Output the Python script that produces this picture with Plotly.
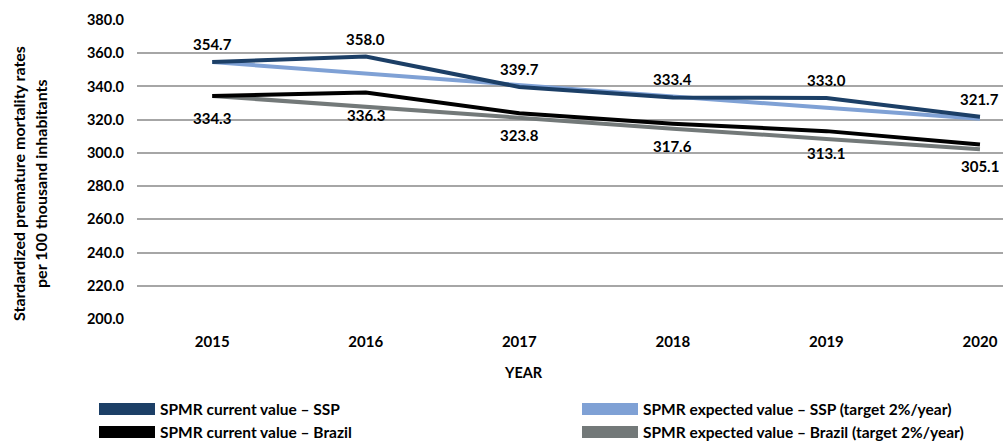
import plotly.graph_objects as go

years = [2015, 2016, 2017, 2018, 2019, 2020]
ssp_current = [354.7, 358.0, 339.7, 333.4, 333.0, 321.7]
ssp_expected = [354.7, 347.6, 340.7, 333.9, 327.2, 320.6]
brazil_current = [334.3, 336.3, 323.8, 317.6, 313.1, 305.1]
brazil_expected = [334.3, 327.6, 321.1, 314.6, 308.4, 302.2]
y_ticks = [200, 220, 240, 260, 280, 300, 320, 340, 360, 380]

names = ["SPMR current value – SSP",
         "SPMR expected value – SSP (target 2%/year)",
         "SPMR current value – Brazil",
         "SPMR expected value – Brazil (target 2%/year)"]
colors = ["#1C3F66", "#7FA1D5", "#000000", "#737979"]

W, H = 1003, 441
ML, MR, MT, MB = 137, 0, 20, 122
PW, PH = W - ML - MR, H - MT - MB
FONT = "Lato"


def px_x(px):
    return (px - ML) / PW


def px_y(py):
    return (H - MB - py) / PH


fig = go.Figure()
series = [ssp_expected, ssp_current, brazil_expected, brazil_current]
snames = [names[1], names[0], names[3], names[2]]
scolors = [colors[1], colors[0], colors[3], colors[2]]
for vals, nm, col in zip(series, snames, scolors):
    fig.add_trace(go.Scatter(x=years, y=vals, mode="lines", name=nm,
                             line=dict(color=col, width=4), showlegend=False,
                             hoverinfo="x+y+name"))

annotations = []
for i, (x, v) in enumerate(zip(years, ssp_current)):
    last = i == len(years) - 1
    annotations.append(dict(x=x, y=v, xref="x", yref="y", text=f"<b>{v:.1f}</b>",
                            showarrow=False, yshift=18,
                            xanchor="right" if last else "center",
                            xshift=21 if last else 0,
                            font=dict(family=FONT, size=15, color="#000000")))
for i, (x, v) in enumerate(zip(years, brazil_current)):
    last = i == len(years) - 1
    annotations.append(dict(x=x, y=v, xref="x", yref="y", text=f"<b>{v:.1f}</b>",
                            showarrow=False, yshift=-22,
                            xanchor="right" if last else "center",
                            xshift=21 if last else 0,
                            font=dict(family=FONT, size=15, color="#000000")))

# axis titles
annotations.append(dict(x=px_x(18), y=px_y(184), xref="paper", yref="paper",
                        text="<b>Stardardized premature mortality rates</b>",
                        textangle=-90, showarrow=False,
                        xanchor="center", yanchor="middle",
                        font=dict(family=FONT, size=16, color="#000000")))
annotations.append(dict(x=px_x(40), y=px_y(184), xref="paper", yref="paper",
                        text="<b>per 100 thousand inhabitants</b>",
                        textangle=-90, showarrow=False,
                        xanchor="center", yanchor="middle",
                        font=dict(family=FONT, size=16, color="#000000")))
annotations.append(dict(x=px_x(523), y=px_y(373), xref="paper", yref="paper",
                        text="<b>YEAR</b>", showarrow=False,
                        xanchor="center", yanchor="middle",
                        font=dict(family=FONT, size=14.5, color="#000000")))

# manual legend
shapes = []
legend_pos = [(99, 409), (582, 409), (99, 432), (582, 432)]
for (lx, ly), nm, col in zip(legend_pos, names, colors):
    shapes.append(dict(type="rect", xref="paper", yref="paper",
                       x0=px_x(lx), x1=px_x(lx + 56),
                       y0=px_y(ly - 6), y1=px_y(ly + 6),
                       fillcolor=col, line=dict(width=0)))
    annotations.append(dict(x=px_x(lx + 59), y=px_y(ly), xref="paper", yref="paper",
                            text=f"<b>{nm}</b>", showarrow=False,
                            xanchor="left", yanchor="middle",
                            font=dict(family=FONT, size=15.5, color="#000000")))

fig.update_layout(
    width=W, height=H,
    margin=dict(l=ML, r=MR, t=MT, b=MB, pad=0),
    paper_bgcolor="white", plot_bgcolor="white",
    annotations=annotations, shapes=shapes,
    showlegend=False,
    xaxis=dict(range=[2014.51, 2020.15], tickvals=years,
               ticktext=[f"<b>{y}</b>" for y in years],
               showgrid=False, zeroline=False, showline=False,
               tickfont=dict(family=FONT, size=15, color="#000000"),
               ticks="", ticklen=0),
    yaxis=dict(range=[200, 380], tickvals=y_ticks,
               ticktext=[f"<b>{t:.1f}</b>" for t in y_ticks],
               showgrid=True, gridcolor="#A6A6A6", gridwidth=1.5,
               zeroline=False, showline=False, ticks="",
               tickfont=dict(family=FONT, size=14.5, color="#000000")),
)
fig.update_xaxes(ticklabelstandoff=12)
fig.update_yaxes(ticklabelstandoff=12)

fig.write_html("out.html", config={"displayModeBar": False},
               post_script="document.body.style.margin='0';document.body.style.padding='0';")
